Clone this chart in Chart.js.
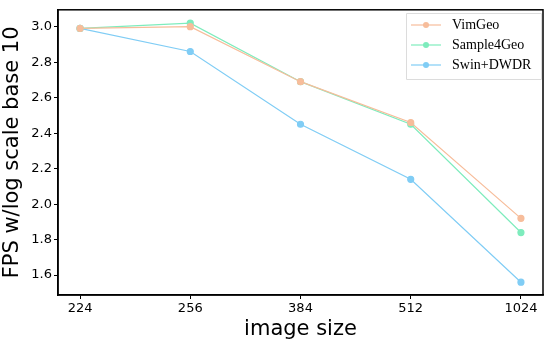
<!DOCTYPE html>
<html>
<head>
<meta charset="utf-8">
<script src="https://cdn.jsdelivr.net/npm/chart.js@4/dist/chart.umd.min.js"></script>
<style>
    body { margin: 0; background: #fff; }
    #wrap { width: 550px; height: 342px; }
</style>
</head>
<body>
<div id="wrap"><canvas id="fpsChart"></canvas></div>
<script>
var sizes = ["224", "256", "384", "512", "1024"];
var vimGeo = [2.99, 3.00, 2.69, 2.46, 1.92];
var sample4Geo = [2.99, 3.02, 2.69, 2.45, 1.84];
var swinDWDR = [2.99, 2.86, 2.45, 2.14, 1.56];
var yTicks = [1.6, 1.8, 2.0, 2.2, 2.4, 2.6, 2.8, 3.0];

function toPoints(arr) {
    return arr.map(function (v, i) { return { x: i, y: v }; });
}

function makeSet(label, arr, color) {
    return {
        label: label,
        data: toPoints(arr),
        borderColor: color,
        backgroundColor: color,
        borderWidth: 1.2,
        pointRadius: 3,
        pointHoverRadius: 3,
        tension: 0
    };
}

// box round the plot + legend in the top right corner
var boxAndLegend = {
    id: 'boxAndLegend',
    afterDraw: function (chart) {
        var ctx = chart.ctx;
        var a = chart.chartArea;
        ctx.save();
        ctx.strokeStyle = '#000';
        ctx.lineWidth = 1.5;
        ctx.strokeRect(a.left, a.top, a.right - a.left, a.bottom - a.top);

        var lx = 406, ly = 13, lw = 135, lh = 66;
        ctx.fillStyle = 'rgba(255,255,255,0.85)';
        ctx.strokeStyle = '#dcdcdc';
        ctx.lineWidth = 1;
        ctx.beginPath();
        ctx.rect(lx + 0.5, ly + 0.5, lw, lh);
        ctx.fill();
        ctx.stroke();

        ctx.font = '14px "Liberation Serif"';
        ctx.textBaseline = 'middle';
        chart.data.datasets.forEach(function (ds, i) {
            var y = ly + 12 + i * 20;
            ctx.strokeStyle = ds.borderColor;
            ctx.lineWidth = 1.2;
            ctx.beginPath();
            ctx.moveTo(lx + 5, y);
            ctx.lineTo(lx + 35, y);
            ctx.stroke();
            ctx.fillStyle = ds.borderColor;
            ctx.beginPath();
            ctx.arc(lx + 20, y, 3, 0, Math.PI * 2);
            ctx.fill();
            ctx.fillStyle = '#000';
            ctx.fillText(ds.label, lx + 46, y);
        });
        ctx.restore();
    }
};

var chart = new Chart(document.getElementById('fpsChart'), {
    type: 'line',
    data: {
        datasets: [
            makeSet('VimGeo', vimGeo, '#f7bd9b'),
            makeSet('Sample4Geo', sample4Geo, '#7eecbd'),
            makeSet('Swin+DWDR', swinDWDR, '#80cdf5')
        ]
    },
    options: {
        responsive: true,
        maintainAspectRatio: false,
        animation: false,
        layout: { padding: { top: 7, right: 7, left: 0, bottom: 0 } },
        plugins: { legend: { display: false }, tooltip: { enabled: false } },
        scales: {
            x: {
                type: 'linear',
                min: -0.2,
                max: 4.2,
                afterBuildTicks: function (s) {
                    s.ticks = sizes.map(function (l, i) { return { value: i }; });
                },
                afterFit: function (s) { s.height = 47; },
                ticks: {
                    color: '#000',
                    font: { family: 'DejaVu Sans', size: 13 },
                    padding: 2,
                    maxRotation: 0,
                    callback: function (v) { return sizes[v]; }
                },
                grid: { color: 'transparent', tickColor: '#000', tickLength: 4, drawOnChartArea: false },
                border: { color: '#000', width: 1.5 },
                title: {
                    display: true,
                    text: 'image size',
                    color: '#000',
                    font: { family: 'DejaVu Sans', size: 21 },
                    padding: { top: 0, bottom: 0 }
                }
            },
            y: {
                min: 1.488,
                max: 3.095,
                afterBuildTicks: function (s) {
                    s.ticks = yTicks.map(function (v) { return { value: v }; });
                },
                afterFit: function (s) { s.width = 58; },
                ticks: {
                    color: '#000',
                    font: { family: 'DejaVu Sans', size: 13 },
                    padding: 2,
                    callback: function (v) { return v.toFixed(1); }
                },
                grid: { color: 'transparent', tickColor: '#000', tickLength: 4, drawOnChartArea: false },
                border: { color: '#000', width: 1.5 },
                title: {
                    display: true,
                    text: 'FPS w/log scale base 10',
                    color: '#000',
                    font: { family: 'DejaVu Sans', size: 21 },
                    padding: { top: 0, bottom: 1 }
                }
            }
        }
    },
    plugins: [boxAndLegend]
});
</script>
</body>
</html>
